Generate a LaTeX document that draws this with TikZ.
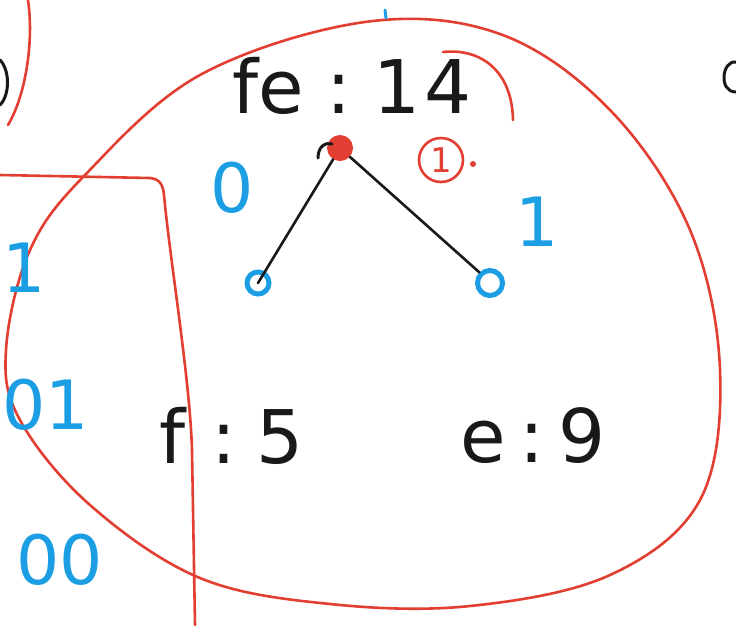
\documentclass[tikz,border=0pt]{standalone}
\usepackage{fontspec}
\setmainfont{DejaVu Sans}
\definecolor{inkred}{RGB}{226,62,50}
\definecolor{inkblue}{RGB}{28,158,228}
\definecolor{inkblack}{RGB}{25,25,25}
\tikzset{
  redline/.style={draw=inkred,line width=2.6pt,line cap=round,line join=round},
  blackline/.style={draw=inkblack,line width=3pt,line cap=round},
  bluetxt/.style={text=inkblue,font=\fontsize{68}{68}\selectfont},
  blacktxt/.style={text=inkblack,font=\fontsize{74}{74}\selectfont},
  leafdot/.style={circle,draw=inkblue,line width=5pt,minimum size=22pt,inner sep=0pt},
}
\begin{document}
\begin{tikzpicture}[x=1pt,y=-1pt]
\useasboundingbox[fill=white] (0,0) rectangle (736,625);
% big red loop
\draw[redline] plot[smooth cycle,tension=0.6] coordinates {
 (365,22) (500,34) (610,110) (690,230) (720,370) (700,500) (610,575) (470,606)
 (330,604) (200,578) (90,505) (20,420) (6,350) (30,250) (85,175) (200,75)};
% red hook near 14
\draw[redline] (443,52) .. controls (480,48) and (512,70) .. (513,120);
% red rectangle on the left
\draw[redline] (0,175) -- (150,178) .. controls (160,179) and (163,185) .. (164,195)
  .. controls (170,260) and (190,380) .. (192,450) -- (195,625);
% fragments at edges
\draw[redline] (28,0) .. controls (34,40) and (26,95) .. (8,125);
\draw[blackline] (0,60) .. controls (10,70) and (10,95) .. (0,105);
\draw[blackline] (736,62) .. controls (722,60) and (718,92) .. (736,92);
\draw[draw=inkblue,line width=3pt,line cap=round] (385,10) -- (386,18);
% texts
\node[blacktxt] (title) at (352,86) {fe\hspace{22pt}:\hspace{22pt}1\hspace{4pt}4};
\node[blacktxt] (fleaf) at (232,436) {f\hspace{26pt}:\hspace{20pt}5};
\node[blacktxt] (eleaf) at (533,436) {e\hspace{14pt}:\hspace{14pt}9};
\node[bluetxt] (zero) at (232,188) {0};
\node[bluetxt] (one) at (537,222) {1};
\node[bluetxt] (codeA) at (24,268) {1};
\node[bluetxt] (codeB) at (46,405) {01};
\node[bluetxt] (codeC) at (60,560) {00};
% tree
\node[circle,fill=inkred,minimum size=26pt,inner sep=0pt] (root) at (340,148) {};
\draw[blackline] (318,158) .. controls (318,146) and (326,142) .. (332,144);
\node[leafdot] (lf) at (258,283) {};
\node[leafdot,minimum size=25pt] (rt) at (490,283) {};
\draw[blackline,line width=2.6pt] (root) -- (lf.center);
\draw[blackline,line width=2.6pt] (root) -- (rt.north west);
% red circled one
\node[circle,draw=inkred,line width=2.6pt,minimum size=44pt,inner sep=0pt,text=inkred,font=\fontsize{34}{34}\selectfont] (mark) at (441,160) {1};
\node[circle,fill=inkred,minimum size=6pt,inner sep=0pt] (markdot) at (473,164) {};
\end{tikzpicture}
\end{document}
